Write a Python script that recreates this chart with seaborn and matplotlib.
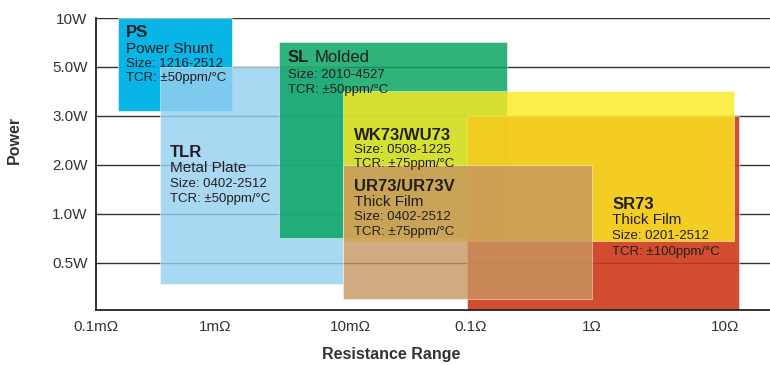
import numpy as np
import pandas as pd
import matplotlib.pyplot as plt
import seaborn as sns

sns.set_style("white")
plt.rcParams['font.family'] = ['Liberation Sans', 'DejaVu Sans']

# ---------- data ----------
families = ['PS', 'TLR', 'SL', 'SR73', 'WK73', 'UR73']
subtitles = ['Power Shunt', 'Metal Plate', 'Molded', 'Thick Film', '', 'Thick Film']
titles = ['PS', 'TLR', 'SL', 'SR73', 'WK73/WU73', 'UR73/UR73V']
sizes = ['1216-2512', '0402-2512', '2010-4527', '0201-2512', '0508-1225', '0402-2512']
tcr = ['±50', '±50', '±50', '±100', '±75', '±75']
r_min = [1.53e-4, 3.45e-4, 2.98e-3, 0.093, 8.9e-3, 8.9e-3]    # ohm
r_max = [1.34e-3, 8.9e-3, 0.20, 12.7, 11.7, 1.0]              # ohm
p_min = [3.15, 0.371, 0.712, 0.25, 0.683, 0.302]              # W
p_max = [10.0, 5.0, 7.12, 3.0, 3.89, 2.0]                     # W

x_ticks = [1e-4, 1e-3, 1e-2, 1e-1, 1, 10]
x_labels = ['0.1mΩ', '1mΩ', '10mΩ', '0.1Ω', '1Ω', '10Ω']
y_ticks = [0.5, 1, 2, 3, 5, 10]
y_labels = ['0.5W', '1.0W', '2.0W', '3.0W', '5.0W', '10W']

df = pd.DataFrame({'family': families, 'title': titles, 'sub': subtitles,
                   'size': sizes, 'tcr': tcr, 'r_min': r_min, 'r_max': r_max,
                   'p_min': p_min, 'p_max': p_max})

# ---------- scales (uneven spacing like the original chart) ----------
xa_log = np.array([-6, -5, -4, -3, -2, -1, 0, 1, 2, 3])
xa_pos = np.array([-142, -23, 96, 215, 350, 471, 592, 725, 858, 991], dtype=float)
ya_p = np.log10([0.0625, 0.125, 0.25, 0.5, 1, 2, 3, 5, 10, 20, 40])
ya_pos = np.array([-2, -1, 0, 1, 2, 3, 4, 5, 6, 7, 8], dtype=float)

def xfwd(r):
    r = np.clip(np.asarray(r, dtype=float), 1e-12, None)
    return np.interp(np.log10(r), xa_log, xa_pos)

def xinv(p):
    return 10 ** np.interp(p, xa_pos, xa_log)

def yfwd(w):
    w = np.clip(np.asarray(w, dtype=float), 1e-12, None)
    return np.interp(np.log10(w), ya_p, ya_pos)

def yinv(p):
    return 10 ** np.interp(p, ya_pos, ya_p)

colors = {'PS': '#00b3e6', 'TLR': '#96d0f0', 'SL': '#08a462',
          'SR73': '#cd3818', 'WK73': '#fceb22', 'UR73': '#c79560'}
alphas = {'PS': 0.97, 'TLR': 0.82, 'SL': 0.84, 'SR73': 0.9,
          'WK73': 0.82, 'UR73': 0.8}

# label layout: offset (px) of first baseline from box top-left, and line steps
lab_off = {'PS': (8, 19), 'TLR': (10, 90), 'SL': (9, 20), 'SR73': (145, 93),
           'WK73': (11, 49), 'UR73': (11, 26)}
lab_steps = {'PS': (16, 30, 44), 'TLR': (15, 30, 45), 'SL': (0, 16, 31),
             'SR73': (15, 30, 46), 'WK73': (0, 13, 27), 'UR73': (15, 29, 44)}

txt = '#231f20'

fig = plt.figure(figsize=(7.7, 3.65), dpi=100)
ax = fig.add_axes([96 / 770, 55 / 365, 674 / 770, 292 / 365])
ax.set_xscale('function', functions=(xfwd, xinv))
ax.set_yscale('function', functions=(yfwd, yinv))
ax.set_xlim(1e-4, xinv(770))
ax.set_ylim(yinv(0.04), 10)

ax.grid(axis='y', color='#333333', lw=1.0)
ax.set_axisbelow(True)

for _, row in df.iterrows():
    f = row['family']
    ax.bar(row['r_min'], row['p_max'] - row['p_min'], width=row['r_max'] - row['r_min'],
           bottom=row['p_min'], align='edge', color=colors[f], alpha=alphas[f],
           edgecolor='white', linewidth=0.4, zorder=2)

    dx, dy = lab_off[f]
    s1, s2, s3 = lab_steps[f]
    anchor = (row['r_min'], row['p_max'])
    kw = dict(xy=anchor, textcoords='offset pixels', color=txt, va='baseline',
              ha='left', zorder=5)
    ax.annotate(row['title'], xytext=(dx, -dy), fontsize=12, fontweight='bold', **kw)
    if f == 'SL':
        ax.annotate(row['sub'], xytext=(36, -dy), fontsize=12, **kw)
    elif row['sub']:
        ax.annotate(row['sub'], xytext=(dx, -dy - s1), fontsize=11, **kw)
    ax.annotate('Size: ' + row['size'], xytext=(dx, -dy - s2), fontsize=9.5, **kw)
    ax.annotate('TCR: ' + row['tcr'] + 'ppm/°C', xytext=(dx, -dy - s3), fontsize=9.5, **kw)

ax.set_xticks(x_ticks)
ax.set_xticklabels(x_labels)
ax.set_yticks(y_ticks)
ax.set_yticklabels(y_labels)
ax.minorticks_off()
ax.tick_params(axis='both', length=0, labelsize=11, labelcolor='#333333')
ax.tick_params(axis='x', pad=7)
ax.tick_params(axis='y', pad=6)

for s in ['top', 'right']:
    ax.spines[s].set_visible(False)
for s in ['left', 'bottom']:
    ax.spines[s].set_color('#222222')
    ax.spines[s].set_linewidth(1.3)

ax.set_xlabel('Resistance Range', fontsize=11.5, fontweight='bold', color='#333333')
ax.set_ylabel('Power', fontsize=11.5, fontweight='bold', color='#333333')
ax.xaxis.set_label_coords(295 / 674, -37 / 292)
ax.yaxis.set_label_coords(-74 / 674, 170 / 292)

fig.savefig('out.png', dpi=100)
